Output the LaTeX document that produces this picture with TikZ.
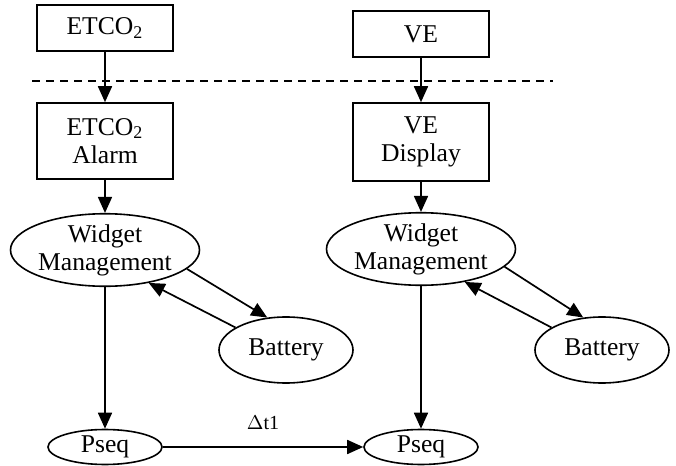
\documentclass[tikz,border=0pt]{standalone}
\usepackage{fontspec}
\setmainfont{Liberation Serif}
\usetikzlibrary{arrows.meta,shapes.geometric}

\begin{document}
\begin{tikzpicture}[x=0.5pt,y=-0.5pt,
    every node/.style={font=\fontsize{12.8}{14}\selectfont,align=center,line width=0.8pt},
    sigbox/.style={draw,rectangle,inner sep=0pt,minimum width=68pt},
    proc/.style={draw,ellipse,inner sep=0pt},
    flow/.style={line width=0.85pt,-{Triangle[length=8pt,width=7pt]}}]

        \useasboundingbox (0,0) rectangle (676,466);

        \node[sigbox,minimum height=23pt] (etco) at (105,28) {ETCO\textsubscript{2}};
        \node[sigbox,minimum height=23pt] (ve) at (421,34) {VE};

        \draw[line width=0.8pt,dash pattern=on 4pt off 3pt] (32,81) -- (553,81);

        \node[sigbox,minimum height=38pt] (alarm) at (105,141) {ETCO\textsubscript{2}\\Alarm};
        \node[sigbox,minimum height=39pt] (disp) at (421,142) {VE\\Display};

        \node[proc,minimum width=91pt,minimum height=34.5pt] (wmA) at (105,250) {Widget\\Management};
        \node[proc,minimum width=91pt,minimum height=34.5pt] (wmB) at (421,249) {Widget\\Management};

        \node[proc,minimum width=67pt,minimum height=33pt] (batA) at (286,350) {Battery};
        \node[proc,minimum width=67pt,minimum height=33pt] (batB) at (602,350) {Battery};

        \node[proc,minimum width=57pt,minimum height=17.5pt] (pseqA) at (105,447) {Pseq};
        \node[proc,minimum width=57pt,minimum height=17.5pt] (pseqB) at (421,447) {Pseq};

        \draw[flow] (etco) -- (alarm);
        \draw[flow] (ve) -- (disp);
        \draw[flow] (alarm) -- (wmA);
        \draw[flow] (disp) -- (wmB);

        \draw[flow] (wmA.-13) -- (batA.120);
        \draw[flow] (batA.156) -- (wmA.-37);
        \draw[flow] (wmB.-12) -- (batB.120);
        \draw[flow] (batB.156) -- (wmB.-37);

        \draw[flow] (wmA) -- (pseqA);
        \draw[flow] (wmB) -- (pseqB);

        \draw[flow] (pseqA) -- node[above=5pt,font=\fontsize{10}{11}\selectfont] {$\Delta$t1} (pseqB);

\end{tikzpicture}
\end{document}
